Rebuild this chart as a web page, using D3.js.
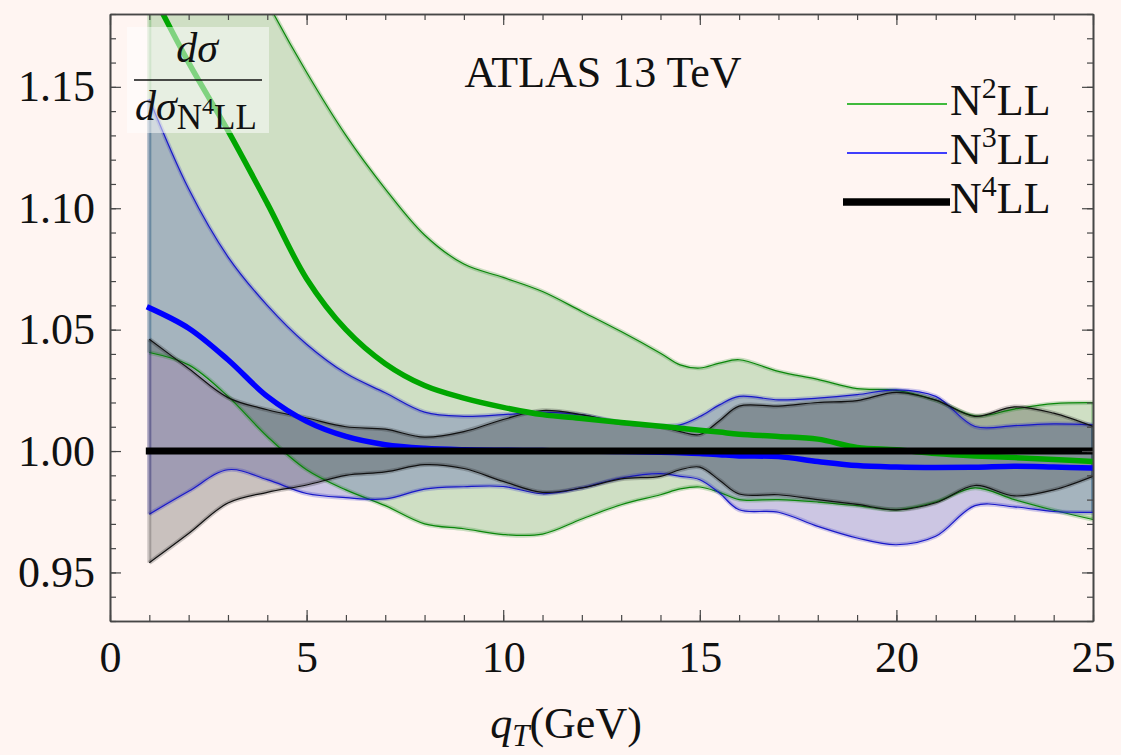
<!DOCTYPE html>
<html lang="en">
<head>
  <meta charset="UTF-8">
  <title>Ratio to N4LL - ATLAS 13 TeV</title>
  <script src="https://d3js.org/d3.v7.min.js"></script>
  <style>
    html, body {
      margin: 0;
      padding: 0;
      background: #fff5f2;
      overflow: hidden;
    }
    svg {
      display: block;
    }
    text {
      font-family: "Liberation Serif", "DejaVu Serif", serif;
      fill: #111;
    }
  </style>
</head>
<body>

<svg width="1121" height="755"></svg>

<script>
  // qT grid (GeV) shared by every series
  const qT = [1, 2, 3, 4, 5, 6, 7, 8, 9, 10, 11, 12, 13, 14, 14.5, 15, 15.5, 16, 17, 18, 19, 20, 21, 22, 23, 24, 25];

  // N2LL: central value and scale-variation band
  const n2Central = [1.191, 1.160, 1.132, 1.102, 1.071, 1.050, 1.036, 1.027, 1.0218, 1.018, 1.015, 1.0134, 1.0118, 1.0102, 1.0094, 1.0086, 1.0078, 1.0069, 1.006, 1.0049, 1.0015, 1.0005, 0.999, 0.998, 0.9973, 0.9965, 0.9957];
  const n2Upper   = [1.28, 1.25, 1.218, 1.185, 1.156, 1.130, 1.108, 1.089, 1.077, 1.0715, 1.0657, 1.0575, 1.0492, 1.0403, 1.0355, 1.0342, 1.0362, 1.0376, 1.0328, 1.0295, 1.0257, 1.025, 1.021, 1.0145, 1.0173, 1.0195, 1.0199];
  const n2Lower   = [1.0406, 1.0355, 1.0225, 1.006, 0.9923, 0.984, 0.9775, 0.970, 0.968, 0.9656, 0.9658, 0.972, 0.9779, 0.982, 0.9844, 0.9852, 0.983, 0.980, 0.980, 0.979, 0.9775, 0.9758, 0.979, 0.9848, 0.980, 0.9756, 0.9718];

  // N3LL
  const n3Central = [1.059, 1.0506, 1.0376, 1.0225, 1.0122, 1.006, 1.0026, 1.0011, 1.0005, 1.0003, 1.0002, 1.0, 0.9998, 0.9995, 0.9993, 0.999, 0.9985, 0.998, 0.9977, 0.9957, 0.994, 0.9934, 0.9932, 0.9933, 0.9937, 0.9934, 0.993];
  const n3Upper   = [1.145, 1.108, 1.080, 1.060, 1.044, 1.032, 1.024, 1.016, 1.0143, 1.015, 1.016, 1.0149, 1.0118, 1.0104, 1.0108, 1.0142, 1.019, 1.0225, 1.0211, 1.0218, 1.0232, 1.0252, 1.0225, 1.0101, 1.0105, 1.0112, 1.0108];
  const n3Lower   = [0.974, 0.9834, 0.9923, 0.9882, 0.9825, 0.9808, 0.9803, 0.9843, 0.9853, 0.9854, 0.9824, 0.9848, 0.9889, 0.9907, 0.9896, 0.9882, 0.9827, 0.9758, 0.9748, 0.969, 0.9642, 0.9614, 0.9649, 0.9775, 0.977, 0.9751, 0.9747];

  // N4LL (reference, ratio = 1)
  const n4Central = [1, 1, 1, 1, 1, 1, 1, 1, 1, 1, 1, 1, 1, 1, 1, 1, 1, 1, 1, 1, 1, 1, 1, 1, 1, 1, 1];
  const n4Upper   = [1.046, 1.034, 1.022, 1.017, 1.0136, 1.010, 1.009, 1.0057, 1.008, 1.013, 1.0167, 1.015, 1.0115, 1.010, 1.008, 1.0068, 1.0125, 1.0185, 1.0185, 1.020, 1.0208, 1.0242, 1.021, 1.0143, 1.0182, 1.0156, 1.0101];
  const n4Lower   = [0.954, 0.966, 0.9786, 0.983, 0.986, 0.990, 0.9914, 0.9944, 0.9928, 0.9875, 0.983, 0.9848, 0.9885, 0.9896, 0.9923, 0.9934, 0.988, 0.9823, 0.982, 0.980, 0.978, 0.9758, 0.9787, 0.9858, 0.9815, 0.984, 0.9896];

  const orderLabels = ["2", "3", "4"];
  const xTicksMajor = [0, 5, 10, 15, 20, 25];
  const yTicksMajor = [0.95, 1.00, 1.05, 1.10, 1.15];

  const orders = [
    {sup: orderLabels[0], central: n2Central, upper: n2Upper, lower: n2Lower},
    {sup: orderLabels[1], central: n3Central, upper: n3Upper, lower: n3Lower},
    {sup: orderLabels[2], central: n4Central, upper: n4Upper, lower: n4Lower}
  ];

  // styling per order (kept apart from the data)
  const styles = [
    {fill: "rgba(0,125,0,0.19)", edge: "#0a860a", line: "#00a600", width: 5.5},
    {fill: "rgba(0,10,170,0.2)", edge: "#1818c8", line: "#0000ff", width: 5.5},
    {fill: "rgba(0,0,0,0.21)",   edge: "#111",    line: "#000",    width: 7}
  ];

  const plotLeft = 110, plotRight = 1093, plotTop = 14, plotBottom = 621;

  const svg = d3.select("svg");

  svg.append("rect")
          .attr("width", 1121)
          .attr("height", 755)
          .attr("fill", "#fff5f2");

  const x = d3.scaleLinear().domain([0, 25]).range([plotLeft, plotRight]);
  const y = d3.scaleLinear().domain([0.93, 1.18]).range([plotBottom, plotTop]);

  svg.append("defs").append("clipPath")
          .attr("id", "plotClip")
          .append("rect")
          .attr("x", plotLeft)
          .attr("y", plotTop)
          .attr("width", plotRight - plotLeft)
          .attr("height", plotBottom - plotTop);

  const plot = svg.append("g").attr("clip-path", "url(#plotClip)");

  const curve = d3.curveCatmullRom.alpha(0.5);

  const area = d3.area()
          .x(d => x(d.q))
          .y0(d => y(d.lo))
          .y1(d => y(d.hi))
          .curve(curve);

  const line = d3.line()
          .x(d => x(d.q))
          .y(d => y(d.v))
          .curve(curve);

  function pts(arr) {
    return qT.map((q, i) => ({q: q, v: arr[i]}));
  }

  // bands
  orders.forEach((o, k) => {
    plot.append("path")
            .datum(qT.map((q, i) => ({q: q, lo: o.lower[i], hi: o.upper[i]})))
            .attr("d", area)
            .attr("fill", styles[k].fill)
            .attr("stroke", "none");
  });

  // band edges, with a soft halo like the original rendering
  orders.forEach((o, k) => {
    const s = styles[k];
    const last = qT.length - 1;
    const sides = [
      [{q: qT[0], v: o.lower[0]}, {q: qT[0], v: o.upper[0]}],
      [{q: qT[last], v: o.lower[last]}, {q: qT[last], v: o.upper[last]}]
    ];
    sides.forEach(sd => {
      plot.append("path")
              .datum(sd)
              .attr("d", d3.line().x(d => x(d.q)).y(d => y(d.v)))
              .attr("stroke", s.edge)
              .attr("stroke-opacity", 0.22)
              .attr("stroke-width", 4)
              .attr("fill", "none");
    });
    [o.upper, o.lower].forEach(arr => {
      plot.append("path")
              .datum(pts(arr))
              .attr("d", line)
              .attr("fill", "none")
              .attr("stroke", s.edge)
              .attr("stroke-opacity", 0.22)
              .attr("stroke-width", 4.5);
      plot.append("path")
              .datum(pts(arr))
              .attr("d", line)
              .attr("fill", "none")
              .attr("stroke", s.edge)
              .attr("stroke-width", 1.2);
    });
  });

  // central curves
  orders.forEach((o, k) => {
    plot.append("path")
            .datum(pts(o.central))
            .attr("d", line)
            .attr("fill", "none")
            .attr("stroke", styles[k].line)
            .attr("stroke-width", styles[k].width)
            .attr("stroke-linecap", "square");
  });

  // ---- axes: inward ticks on all four sides ----
  const frameColor = "#474747";

  function styleAxis(g) {
    g.selectAll("path.domain").attr("stroke", frameColor).attr("stroke-width", 1.6);
    g.selectAll(".tick line").attr("stroke", frameColor).attr("stroke-width", 1.2);
  }

  const xMinor = d3.range(0, 26, 1);
  const yMinor = d3.range(0.93, 1.185, 0.01).map(v => +v.toFixed(2));

  svg.append("g")
          .attr("transform", `translate(0,${plotBottom})`)
          .call(d3.axisBottom(x).tickValues(xMinor).tickSize(-6).tickSizeOuter(0).tickFormat(""))
          .call(styleAxis);
  svg.append("g")
          .attr("transform", `translate(0,${plotTop})`)
          .call(d3.axisTop(x).tickValues(xMinor).tickSize(-6).tickSizeOuter(0).tickFormat(""))
          .call(styleAxis);
  svg.append("g")
          .attr("transform", `translate(${plotLeft},0)`)
          .call(d3.axisLeft(y).tickValues(yMinor).tickSize(-6).tickSizeOuter(0).tickFormat(""))
          .call(styleAxis);
  svg.append("g")
          .attr("transform", `translate(${plotRight},0)`)
          .call(d3.axisRight(y).tickValues(yMinor).tickSize(-6).tickSizeOuter(0).tickFormat(""))
          .call(styleAxis);

  // major ticks with labels
  const xAxis = svg.append("g")
          .attr("transform", `translate(0,${plotBottom})`)
          .call(d3.axisBottom(x).tickValues(xTicksMajor).tickSize(-11).tickSizeOuter(0).tickPadding(20).tickFormat(d3.format("d")))
          .call(styleAxis);
  xAxis.selectAll("text")
          .attr("font-size", 44)
          .attr("font-family", "Liberation Serif")
          .attr("fill", "#111");

  svg.append("g")
          .attr("transform", `translate(0,${plotTop})`)
          .call(d3.axisTop(x).tickValues(xTicksMajor).tickSize(-11).tickSizeOuter(0).tickFormat(""))
          .call(styleAxis);

  const yAxis = svg.append("g")
          .attr("transform", `translate(${plotLeft},0)`)
          .call(d3.axisLeft(y).tickValues(yTicksMajor).tickSize(-11).tickSizeOuter(0).tickPadding(15).tickFormat(d3.format(".2f")))
          .call(styleAxis);
  yAxis.selectAll("text")
          .attr("font-size", 44)
          .attr("font-family", "Liberation Serif")
          .attr("fill", "#111");

  svg.append("g")
          .attr("transform", `translate(${plotRight},0)`)
          .call(d3.axisRight(y).tickValues(yTicksMajor).tickSize(-11).tickSizeOuter(0).tickFormat(""))
          .call(styleAxis);

  // x axis title: q_T (GeV)
  const xt = svg.append("text")
          .attr("x", 566)
          .attr("y", 738)
          .attr("text-anchor", "middle")
          .attr("font-size", 44);
  xt.append("tspan").attr("font-style", "italic").text("q");
  xt.append("tspan").attr("font-style", "italic").attr("font-size", 31).attr("dy", 8).text("T");
  xt.append("tspan").attr("dy", -8).text("(GeV)");

  // plot title
  svg.append("text")
          .attr("x", 603)
          .attr("y", 87)
          .attr("text-anchor", "middle")
          .attr("font-size", 44)
          .text("ATLAS 13 TeV");

  // ratio label box in the upper left corner
  svg.append("rect")
          .attr("x", 127)
          .attr("y", 27)
          .attr("width", 142)
          .attr("height", 106)
          .attr("fill", "#fff")
          .attr("fill-opacity", 0.5);

  svg.append("text")
          .attr("x", 197)
          .attr("y", 62)
          .attr("text-anchor", "middle")
          .attr("font-size", 42)
          .attr("font-style", "italic")
          .text("dσ");

  svg.append("line")
          .attr("x1", 134)
          .attr("x2", 262)
          .attr("y1", 80)
          .attr("y2", 80)
          .attr("stroke", "#111")
          .attr("stroke-width", 1.5);

  const den = svg.append("text")
          .attr("x", 135)
          .attr("y", 120)
          .attr("font-size", 42);
  den.append("tspan").attr("font-style", "italic").text("dσ");
  den.append("tspan").attr("font-size", 35).attr("dy", 9).text("N");
  den.append("tspan").attr("font-size", 24).attr("dy", -15).text("4");
  den.append("tspan").attr("font-size", 35).attr("dy", 15).text("LL");

  // legend
  const legend = svg.append("g");
  orders.forEach((o, k) => {
    const ly = 104 + k * 49;
    legend.append("line")
            .attr("x1", k === 2 ? 843 : 847)
            .attr("x2", k === 2 ? 950 : 947)
            .attr("y1", ly)
            .attr("y2", ly)
            .attr("stroke", styles[k].line)
            .attr("stroke-width", k === 2 ? 7.5 : 1.6);
    const t = legend.append("text")
            .attr("x", 950)
            .attr("y", ly + 11)
            .attr("font-size", 44);
    t.append("tspan").text("N");
    t.append("tspan").attr("font-size", 30).attr("dy", -17).text(o.sup);
    t.append("tspan").attr("dy", 17).text("LL");
  });
</script>

</body>
</html>
